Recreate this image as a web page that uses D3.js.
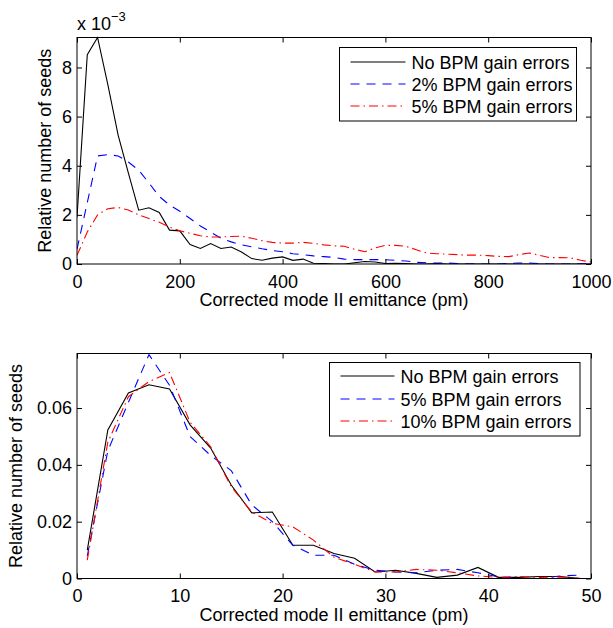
<!DOCTYPE html>
<html>
<head>
<meta charset="utf-8">
<script src="https://cdn.jsdelivr.net/npm/d3@7"></script>
<style>
  body { margin: 0; background: #fff; }
  svg { display: block; font-family: "Liberation Sans", Arial, sans-serif; }
</style>
</head>
<body>
<svg width="613" height="628"></svg>
<script>
// ---- top panel data (values in units of 1e-3) ----
var topX = [0, 20, 40, 60, 80, 100, 120, 140, 160, 180, 200, 220, 240, 260, 280, 300, 320, 340, 360, 380,
  400, 420, 440, 460, 480, 500, 520, 540, 560, 580, 600, 620, 640, 660, 680, 700, 720, 740, 760, 780,
  800, 820, 840, 860, 880, 900, 920, 940, 960, 980, 1000];
var topNoErr = [1.9, 8.52, 9.22, 7.3, 5.25, 3.7, 2.19, 2.29, 2.1, 1.38, 1.35, 0.79, 0.63, 0.83, 0.63, 0.69, 0.49, 0.22, 0.15, 0.24,
  0.29, 0.15, 0.2, 0.03, 0.02, 0, 0, 0.05, 0.1, 0.08, 0.02, 0.03, 0.02, 0, 0, 0.02, 0, 0, 0, 0,
  0, 0, 0, 0, 0, 0, 0, 0, 0, 0, 0];
var top2pct = [0.6, 2.5, 4.4, 4.45, 4.4, 4.15, 3.82, 3.3, 2.75, 2.4, 2.15, 1.85, 1.55, 1.3, 1.05, 0.9, 0.78, 0.7, 0.62, 0.55,
  0.5, 0.42, 0.38, 0.33, 0.3, 0.27, 0.2, 0.18, 0.18, 0.18, 0.17, 0.15, 0.12, 0.07, 0.05, 0.04, 0.04, 0.02, 0.01, 0,
  0, 0, 0.02, 0.04, 0.04, 0.01, 0, 0, 0, 0.01, 0.02];
var top5pct = [0.35, 1.3, 2.0, 2.25, 2.3, 2.2, 2.0, 1.85, 1.7, 1.5, 1.35, 1.25, 1.15, 1.1, 1.1, 1.12, 1.13, 1.05, 0.95, 0.88,
  0.85, 0.85, 0.88, 0.84, 0.78, 0.74, 0.72, 0.6, 0.5, 0.65, 0.76, 0.76, 0.72, 0.58, 0.45, 0.42, 0.4, 0.38, 0.36, 0.36,
  0.34, 0.31, 0.3, 0.38, 0.45, 0.35, 0.26, 0.26, 0.25, 0.15, 0.08];
var topLabels = ["No BPM gain errors", "2% BPM gain errors", "5% BPM gain errors"];
var topXTicks = [0, 200, 400, 600, 800, 1000];
var topYTicks = [0, 2, 4, 6, 8];

// ---- bottom panel data ----
var botX = [1, 3, 5, 7, 9, 11, 13, 15, 17, 19, 21, 23, 25, 27, 29, 31, 33, 35, 37, 39, 41, 43, 45, 47, 49];
var botNoErr = [0.010, 0.0523, 0.0653, 0.0682, 0.0667, 0.0541, 0.0459, 0.0329, 0.0231, 0.0234, 0.0117, 0.0117, 0.0088,
  0.0071, 0.0023, 0.0029, 0.0018, 0.0004, 0.0012, 0.0039, 0.0004, 0.0004, 0.0007, 0.0007, 0];
var bot5pct = [0.0079, 0.045, 0.062, 0.0788, 0.068, 0.050, 0.0433, 0.038, 0.0259, 0.020, 0.0117, 0.0082, 0.0082,
  0.005, 0.0029, 0.0023, 0.002, 0.0029, 0.0032, 0.002, 0.0006, 0, 0, 0.0009, 0.0012];
var bot10pct = [0.0065, 0.048, 0.064, 0.0693, 0.0725, 0.055, 0.0464, 0.0323, 0.0234, 0.0194, 0.0182, 0.0135, 0.0075,
  0.005, 0.0023, 0.0023, 0.0032, 0.0029, 0.002, 0.0009, 0.0004, 0.0007, 0.0004, 0.0005, 0];
var botLabels = ["No BPM gain errors", "5% BPM gain errors", "10% BPM gain errors"];
var botXTicks = [0, 10, 20, 30, 40, 50];
var botYTicks = [0, 0.02, 0.04, 0.06];

var xLabel = "Corrected mode II emittance (pm)";
var yLabel = "Relative number of seeds";

var colors = ["#000000", "#0000ff", "#ff0000"];
var dashes = [null, "9,7", "9,4,1.5,4"];

var svg = d3.select("svg");
var fontSize = 18;

function drawPanel(p) {
  var x = d3.scaleLinear().domain(p.xDomain).range([p.left, p.right]);
  var y = d3.scaleLinear().domain(p.yDomain).range([p.bottom, p.top]);
  var g = svg.append("g");

  var clipId = "clip" + p.id;
  svg.append("clipPath").attr("id", clipId)
    .append("rect")
    .attr("x", p.left).attr("y", p.top - 1)
    .attr("width", p.right - p.left).attr("height", p.bottom - p.top + 1);

  var line = d3.line()
    .x(function (d) { return x(d[0]); })
    .y(function (d) { return y(d[1]); });

  p.series.forEach(function (s, i) {
    var pts = p.xs.map(function (v, j) { return [v, s[j]]; });
    g.append("path")
      .attr("clip-path", "url(#" + clipId + ")")
      .attr("d", line(pts))
      .attr("fill", "none")
      .style("stroke", colors[i])
      .attr("stroke-width", 1.1)
      .attr("stroke-dasharray", dashes[i]);
  });

  // axes, ticks pointing inward on all four sides
  g.append("g").attr("transform", "translate(0," + p.bottom + ")")
    .call(d3.axisBottom(x).tickValues(p.xTicks).tickFormat(d3.format("d"))
      .tickSizeInner(-5).tickSizeOuter(0).tickPadding(11));
  g.append("g").attr("transform", "translate(" + p.left + ",0)")
    .call(d3.axisLeft(y).tickValues(p.yTicks).tickFormat(p.yFormat)
      .tickSizeInner(-5).tickSizeOuter(0).tickPadding(5));
  g.append("g").attr("transform", "translate(0," + p.top + ")")
    .call(d3.axisTop(x).tickValues(p.xTicks).tickFormat("").tickSizeInner(-5).tickSizeOuter(0));
  g.append("g").attr("transform", "translate(" + p.right + ",0)")
    .call(d3.axisRight(y).tickValues(p.yTicks).tickFormat("").tickSizeInner(-5).tickSizeOuter(0));

  g.selectAll(".domain").remove();
  g.selectAll(".tick line").attr("stroke", "#000");
  g.selectAll(".tick text")
    .attr("font-family", "'Liberation Sans', Arial, sans-serif")
    .attr("font-size", fontSize)
    .attr("fill", "#000");

  g.append("rect")
    .attr("x", p.left).attr("y", p.top)
    .attr("width", p.right - p.left).attr("height", p.bottom - p.top)
    .attr("fill", "none").attr("stroke", "#000").attr("stroke-width", 1);

  g.append("text")
    .attr("x", (p.left + p.right) / 2)
    .attr("y", p.bottom + 42)
    .attr("text-anchor", "middle")
    .attr("font-size", fontSize)
    .text(xLabel);

  g.append("text")
    .attr("transform", "translate(" + p.yLabelX + "," + (p.top + p.bottom) / 2 + ") rotate(-90)")
    .attr("text-anchor", "middle")
    .attr("font-size", fontSize)
    .text(yLabel);

  // legend
  var L = p.legend;
  var lg = svg.append("g");
  lg.append("rect")
    .attr("x", L.x).attr("y", L.y)
    .attr("width", L.w).attr("height", L.h)
    .attr("fill", "#fff").attr("stroke", "#000").attr("stroke-width", 1);
  p.labels.forEach(function (lab, i) {
    var ry = Math.round(L.y + L.first + i * L.step);
    lg.append("line")
      .attr("x1", L.x + L.lineStart).attr("x2", L.x + L.lineEnd)
      .attr("y1", ry).attr("y2", ry)
      .style("stroke", colors[i])
      .attr("stroke-width", 1.2)
      .attr("stroke-dasharray", dashes[i]);
    lg.append("text")
      .attr("x", L.x + L.textStart)
      .attr("y", ry + 6.5)
      .attr("font-size", fontSize)
      .text(lab);
  });

  return g;
}

var gTop = drawPanel({
  id: "top",
  left: 77, right: 591, top: 37.5, bottom: 264,
  xDomain: [0, 1000], yDomain: [0, 9.22],
  xs: topX, series: [topNoErr, top2pct, top5pct],
  xTicks: topXTicks, yTicks: topYTicks,
  yFormat: d3.format("d"),
  yLabelX: 51,
  labels: topLabels,
  legend: { x: 339.5, y: 47.5, w: 237, h: 73.5, first: 14, step: 22, lineStart: 11, lineEnd: 66, textStart: 72 }
});

// exponent note above the top axis
var expo = gTop.append("text").attr("x", 77).attr("y", 30).attr("font-size", fontSize);
expo.append("tspan").text("x 10");
expo.append("tspan").attr("font-size", 13).attr("dy", -9).text("\u22123");

drawPanel({
  id: "bot",
  left: 77, right: 591, top: 353.5, bottom: 578.5,
  xDomain: [0, 50], yDomain: [0, 0.0792],
  xs: botX, series: [botNoErr, bot5pct, bot10pct],
  xTicks: botXTicks, yTicks: botYTicks,
  yFormat: function (d) { return d === 0 ? "0" : d3.format(".2f")(d); },
  yLabelX: 22,
  labels: botLabels,
  legend: { x: 329.5, y: 362.5, w: 250.5, h: 73.5, first: 13.5, step: 22.7, lineStart: 11, lineEnd: 65, textStart: 71 }
});
</script>
</body>
</html>
